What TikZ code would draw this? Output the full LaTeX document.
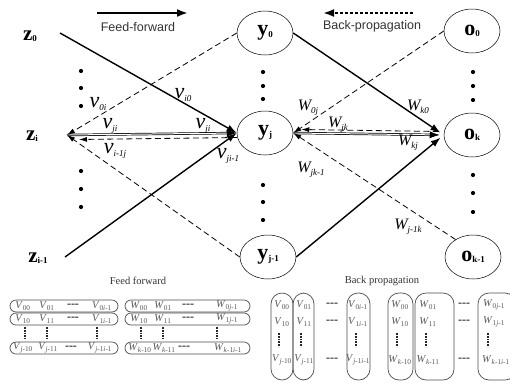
\documentclass[tikz,border=0pt]{standalone}
\usepackage{fontspec}
\setmainfont{Liberation Serif}
\newfontfamily\arialfam{Liberation Sans}
\usetikzlibrary{shapes.geometric,arrows.meta}

% bold unit name with a small subscript
\newcommand\unitlab[3]{{\fontsize{#3}{#3}\selectfont\bfseries #1}\raisebox{-1.5pt}{\fontsize{9}{9}\selectfont\bfseries #2}}
% italic weight label
\newcommand\wtlab[3]{{\fontsize{#3}{#3}\selectfont\itshape #1}\raisebox{-3pt}{\fontsize{9}{9}\selectfont\itshape #2}}
% matrix entry
\newcommand\mentry[2]{\textit{#1}\textsubscript{#2}}

\begin{document}
\begin{tikzpicture}[x=1pt,y=-1pt,
  unit/.style={ellipse, draw, line width=0.5pt, minimum width=56pt, minimum height=44pt, inner sep=0pt},
  fwd/.style={line width=1.4pt, -{Latex[length=10pt,width=7pt]}},
  fwddouble/.style={line width=0.7pt, double, double distance=1pt, -{Latex[length=10pt,width=7pt]}},
  bwd/.style={line width=0.8pt, dash pattern=on 6pt off 3.5pt, -{Latex[length=8pt,width=5pt]}},
  dotmark/.style={circle, fill, inner sep=0pt, minimum size=4.2pt},
  lab/.style={inner sep=0pt},
  mbox/.style={draw=black!70, line width=0.7pt, rounded corners=6pt},
  mcol/.style={draw=black!70, line width=0.7pt, rounded corners=11pt},
  ment/.style={inner sep=0pt, text=black!65, font=\fontsize{10.5}{10.5}\selectfont},
  mdash/.style={inner sep=0pt, text=black!85, font=\fontsize{12}{12}\selectfont\bfseries},
  vdot/.style={line width=1.1pt, black!85, dash pattern=on 1.7pt off 1.1pt},
  caption/.style={inner sep=0pt, font=\fontsize{10.5}{10.5}\selectfont, text=black!80},
  dirtext/.style={inner sep=0pt, font=\arialfam\fontsize{12.5}{12.5}\selectfont, text=black!80}
]
\useasboundingbox (0,0) rectangle (510,383);

% ---- direction hints ----
\coordinate (ffa) at (97,13);
\coordinate (ffb) at (188,13);
\draw[line width=2pt, -{Latex[length=11pt,width=8pt]}] (ffa) -- (ffb);
\node[dirtext] (fftext) at (138,27) {Feed-forward};
\coordinate (bpa) at (413,13);
\coordinate (bpb) at (323,13);
\draw[line width=2pt, dash pattern=on 3pt off 2pt, -{Latex[length=11pt,width=8pt]}] (bpa) -- (bpb);
\node[dirtext] (bptext) at (372,26) {Back-propagation};

% ---- input layer ----
\node[lab] (z0) at (30,36) {\unitlab{z}{0}{21}};
\node[lab] (zi) at (32,136) {\unitlab{z}{i}{21}};
\node[lab] (zim) at (38,258) {\unitlab{z}{i-1}{21}};
\coordinate (z0e) at (60,33);
\coordinate (zit) at (67,135);
\coordinate (zime) at (65,257);

% ---- hidden layer ----
\node[unit] (y0) at (265,33) {\unitlab{y}{0}{22}};
\node[unit] (yi) at (265,133) {\unitlab{y}{j}{22}};
\node[unit] (yjm) at (268,257) {\unitlab{y}{j-1}{22}};

% ---- output layer ----
\node[unit] (o0) at (472,31) {\unitlab{o}{0}{22}};
\node[unit] (ok) at (472,135) {\unitlab{o}{k}{22}};
\node[unit] (okm) at (473,257) {\unitlab{o}{k-1}{22}};

% ---- ellipsis dots ----
\foreach \yy in {71,88,106,171,189,207} \node[dotmark] at (81,\yy) {};
\foreach \yy in {72,86,99,185,202,220} \node[dotmark] at (263,\yy) {};
\foreach \yy in {72,86,100,175,193,212} \node[dotmark] at (473,\yy) {};

% ---- input to hidden ----
\draw[fwd] (z0e) -- (yi.west);
\draw[fwd] (zime) -- (yi.west);
\draw[fwddouble] (zit) -- (yi.west);
\draw[bwd] (y0.west) -- (zit);
\draw[bwd] (yjm.west) -- (zit);
\draw[bwd] ([yshift=-4.5pt]yi.west) -- ([yshift=-4.5pt,xshift=12pt]zit);

% ---- hidden to output ----
\draw[fwd, shorten >=4pt] (y0.east) -- (ok.west);
\draw[fwd, shorten >=4pt] (yjm.east) -- (ok.west);
\draw[fwddouble, shorten >=4pt] (yi.east) -- (ok.west);
\draw[bwd] (o0.west) -- (yi.east);
\draw[bwd] (okm.135) -- (yi.east);
\draw[bwd] ([yshift=3.5pt,xshift=-5pt]ok.west) -- ([yshift=3.5pt,xshift=8pt]yi.east);

% ---- weight labels ----
\node[lab] (lvi0) at (183,95) {\wtlab{v}{i0}{22}};
\node[lab] (lv0i) at (98,104) {\wtlab{v}{0i}{22}};
\node[lab] (lvjia) at (110,126) {\wtlab{v}{ji}{22}};
\node[lab] (lvjib) at (203,126) {\wtlab{v}{ji}{22}};
\node[lab] (lvimj) at (115,151) {\wtlab{v}{i-1j}{22}};
\node[lab] (lvjim) at (228,156) {\wtlab{v}{ji-1}{22}};
\node[lab] (lw0j) at (308,108) {\wtlab{W}{0j}{16}};
\node[lab] (lwk0) at (418,107) {\wtlab{W}{k0}{16}};
\node[lab] (lwjk) at (338,125) {\wtlab{W}{jk}{16}};
\node[lab] (lwkj) at (408,143) {\wtlab{W}{kj}{16}};
\node[lab] (lwjkm) at (311,170) {\wtlab{W}{jk-1}{16}};
\node[lab] (lwjmk) at (408,227) {\wtlab{W}{j-1k}{16}};

% ---- captions ----
\node[caption] (capff) at (138,281) {Feed forward};
\node[caption] (capbp) at (382,281) {Back propagation};

% ---- feed-forward weight matrices (rows) ----
\draw[mbox] (10,300) rectangle (118,312);
\draw[mbox] (10,313) rectangle (118,325);
\draw[mbox] (10,342) rectangle (118,354);
\draw[mbox] (125,300) rectangle (250,312);
\draw[mbox] (125,313) rectangle (250,325);
\draw[mbox] (125,342) rectangle (250,354);

\node[ment] at (23,306) {\mentry{V}{00}};
\node[ment] at (47,306) {\mentry{V}{01}};
\node[mdash] at (73,306) {{-}{-}{-}};
\node[ment] at (102,306) {\mentry{V}{0\textit{i}-1}};
\node[ment] at (23,319) {\mentry{V}{10}};
\node[ment] at (47,319) {\mentry{V}{11}};
\node[mdash] at (73,319) {{-}{-}{-}};
\node[ment] at (102,319) {\mentry{V}{1\textit{i}-1}};
\node[ment] at (23,348) {\mentry{V}{\textit{j}-10}};
\node[ment] at (48,348) {\mentry{V}{\textit{j}-11}};
\node[mdash] at (71,348) {{-}{-}{-}};
\node[ment] at (100,348) {\mentry{V}{\textit{j}-1\textit{i}-1}};
\foreach \xx in {25,47,97} \draw[vdot] (\xx,327) -- (\xx,339);

\node[ment] at (139,306) {\mentry{W}{00}};
\node[ment] at (163,306) {\mentry{W}{01}};
\node[mdash] at (188,306) {{-}{-}{-}};
\node[ment] at (227,306) {\mentry{W}{0\textit{j}-1}};
\node[ment] at (139,319) {\mentry{W}{10}};
\node[ment] at (163,319) {\mentry{W}{11}};
\node[mdash] at (188,319) {{-}{-}{-}};
\node[ment] at (227,319) {\mentry{W}{1\textit{j}-1}};
\node[ment] at (140,348) {\mentry{W}{\textit{k}-10}};
\node[ment] at (164,348) {\mentry{W}{\textit{k}-11}};
\node[mdash] at (184,348) {{-}{-}{-}};
\node[ment] at (228,348) {\mentry{W}{\textit{k}-1\textit{i}-1}};
\foreach \xx in {141,163,217} \draw[vdot] (\xx,327) -- (\xx,339);

% ---- back-propagation weight matrices (columns) ----
\draw[mcol] (271,293) rectangle (293,380);
\draw[mcol] (293,293) rectangle (314,380);
\draw[mcol] (347,293) rectangle (370,380);
\draw[mcol] (388,293) rectangle (413,380);
\draw[mcol] (415,293) rectangle (454,380);
\draw[mcol] (478,293) rectangle (516,380);

\node[ment] at (282,305) {\mentry{V}{00}};
\node[ment] at (282,322) {\mentry{V}{10}};
\node[ment] at (282,360) {\mentry{V}{\textit{j}-10}};
\node[ment] at (304,305) {\mentry{V}{01}};
\node[ment] at (304,322) {\mentry{V}{11}};
\node[ment] at (304,360) {\mentry{V}{\textit{j}-11}};
\node[ment] at (358,305) {\mentry{V}{0\textit{i}-1}};
\node[ment] at (358,322) {\mentry{V}{1\textit{i}-1}};
\node[ment] at (358,360) {\mentry{V}{\textit{j}-1\textit{i}-1}};
\node[ment] at (400,305) {\mentry{W}{00}};
\node[ment] at (400,322) {\mentry{W}{10}};
\node[ment] at (400,360) {\mentry{W}{\textit{k}-10}};
\node[ment] at (428,305) {\mentry{W}{01}};
\node[ment] at (428,322) {\mentry{W}{11}};
\node[ment] at (428,360) {\mentry{W}{\textit{k}-11}};
\node[ment] at (494,305) {\mentry{W}{0\textit{j}-1}};
\node[ment] at (494,322) {\mentry{W}{1\textit{j}-1}};
\node[ment] at (496,360) {\mentry{W}{\textit{k}-1\textit{i}-1}};
\foreach \yy in {305,322,360} {
  \node[mdash] at (332,\yy) {{-}{-}{-}};
  \node[mdash] at (464,\yy) {{-}{-}{-}};
}
\foreach \xx in {279,301,356,397,426,488} \draw[vdot] (\xx,333) -- (\xx,347);

\end{tikzpicture}
\end{document}
